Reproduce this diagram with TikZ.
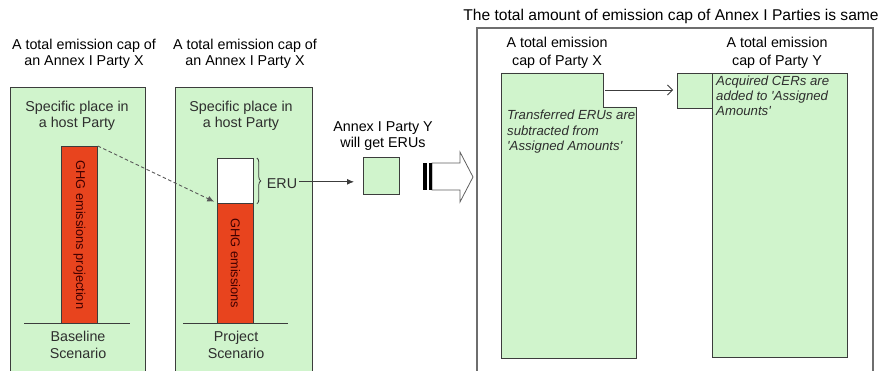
\documentclass[tikz,border=0pt]{standalone}
\usepackage{fontspec}
\setmainfont{Liberation Sans}
\usetikzlibrary{arrows.meta,decorations.pathreplacing,calc}
\definecolor{boxgreen}{HTML}{D0F4CC}
\definecolor{barred}{HTML}{E8441E}
\definecolor{edge}{HTML}{3C3C3C}
\definecolor{txt}{HTML}{2E2E2E}
\definecolor{frame}{HTML}{6E6E6E}
\begin{document}
\begin{tikzpicture}[x=1pt,y=-1pt,
  every node/.style={font=\fontsize{14.3}{15.5}\selectfont, align=center, inner sep=0pt, text=black},
  panel/.style={fill=boxgreen, draw=edge, line width=0.9pt},
  panelnode/.style={panel, anchor=north west, minimum width=#1, minimum height=320pt},
  redbar/.style={fill=barred, draw=edge, line width=0.8pt, anchor=north west, minimum width=36pt},
  whitebar/.style={fill=white, draw=edge, line width=0.8pt, anchor=north west, minimum width=36pt},
  bartext/.style={rotate=-90, font=\fontsize{12.8}{14}\selectfont, text=red!25!black},
  ground/.style={draw=edge, line width=0.9pt},
  greentext/.style={text=txt},
  itext/.style={font=\fontsize{13.2}{15.5}\selectfont\itshape, align=left, text=txt, anchor=north west},
  conn/.style={draw=edge, line width=0.8pt},
]
\useasboundingbox (0,0) rectangle (882,371);
\clip (0,0) rectangle (882,371);

% ---- left panels
\node[panelnode=135pt] (p1) at (10,87) {};
\node[panelnode=137pt] (p2) at (175,87) {};

\node (t1) at (84,54) {A total emission cap of\\an Annex I Party X};
\node (t2) at (245,54) {A total emission cap of\\an Annex I Party X};

\node[greentext] (s1) at (77,116) {Specific place in\\a host Party};
\node[greentext] (s2) at (241,116) {Specific place in\\a host Party};

% bars
\node[redbar, minimum height=177pt] (bar1) at (61,146) {};
\node[bartext] (b1t) at (bar1.center) {GHG emissions projection};
\node[whitebar, minimum height=45pt] (ew2) at (217,158) {};
\node[redbar, minimum height=120pt] (bar2) at (217,203) {};
\node[bartext] (b2t) at (bar2.center) {GHG emissions};

% ground lines
\coordinate (g1a) at (24,323); \coordinate (g1b) at (130,323);
\coordinate (g2a) at (183,323); \coordinate (g2b) at (288,323);
\draw[ground] (g1a) -- (g1b);
\draw[ground] (g2a) -- (g2b);
\node[greentext, font=\fontsize{14.3}{16.5}\selectfont] (sc1) at (78,345) {Baseline\\Scenario};
\node[greentext, font=\fontsize{14.3}{16.5}\selectfont] (sc2) at (236,345) {Project\\Scenario};

% dashed arrow
\draw[dashed, dash pattern=on 3.5pt off 2.5pt, draw=gray!70!black, line width=0.9pt,
      -{Latex[length=7pt,width=6pt]}, shorten >=3pt]
  (bar1.north east) -- (bar2.north west);

% brace and ERU
\draw[draw=edge, line width=0.8pt, decorate, decoration={brace, amplitude=4pt}]
  ($(ew2.north east)+(3,0)$) -- ($(ew2.south east)+(3,0)$);
\node[greentext] (eru) at (282,184) {ERU};

% Annex I Party Y
\node (ay) at (383,136) {Annex I Party Y\\will get ERUs};
\node[panel, minimum width=36pt, minimum height=37pt, anchor=north west] (boxy) at (363,157) {};
\coordinate (erustart) at ($(eru.north east)+(2,3)$);
\draw[conn, -{Latex[length=7pt,width=6pt]}, shorten >=9pt]
  (erustart) -- (boxy.west |- erustart);

% big hollow arrow
\draw[draw=gray!75!black, fill=white, line width=0.8pt]
  (432,163) -- (460,163) -- (460,152) -- (473,177) -- (460,202) -- (460,190) -- (432,190) -- cycle;
\fill[black] (423,163) rectangle (427,190);
\fill[black] (429,163) rectangle (432,190);

% ---- right frame
\node[font=\fontsize{15.6}{17}\selectfont] (top) at (671,16) {The total amount of emission cap of Annex I Parties is same};
\draw[draw=frame, line width=1.5pt] (477,400) -- (477,28) -- (873,28) -- (873,400);

\node[font=\fontsize{14.3}{18}\selectfont] (tx) at (557,53) {A total emission\\cap of Party X};
\node[font=\fontsize{14.3}{18}\selectfont] (ty) at (777,53) {A total emission\\cap of Party Y};

% Party X box with notch
\coordinate (xa) at (603,90);
\draw[panel] (501,73) -- (603,73) -- (603,107) -- (636,107) -- (636,358) -- (501,358) -- cycle;
\node[itext] (xt) at (507,110) {Transferred ERUs are\\subtracted from\\\textquotesingle Assigned Amounts\textquotesingle};

% small square and Party Y box
\node[panel, minimum width=35pt, minimum height=35pt, anchor=north west] (sq) at (677,73) {};
\node[panel, minimum width=135pt, minimum height=284pt, anchor=north west] (py) at (712,73) {};
\node[itext, font=\fontsize{13.2}{15}\selectfont\itshape] (yt) at (716,76) {Acquired CERs are\\added to \textquotesingle Assigned\\Amounts\textquotesingle};

\draw[conn, -{Straight Barb[length=5pt,width=10pt]}, shorten >=4pt, shorten <=2pt]
  (xa) -- (sq.west |- xa);
\end{tikzpicture}
\end{document}
